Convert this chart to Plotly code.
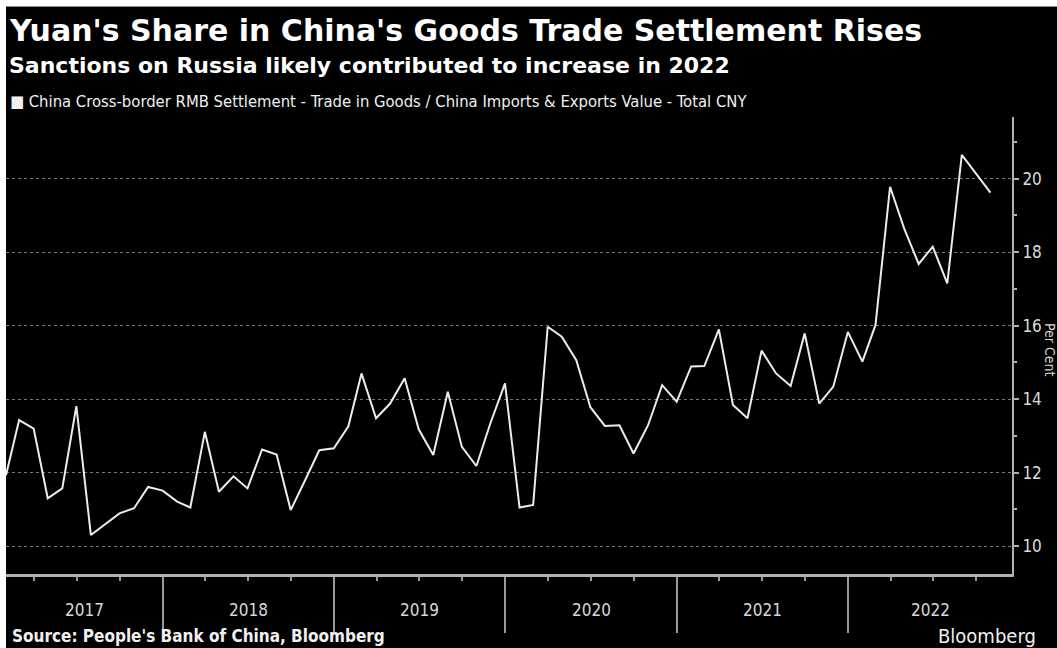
import plotly.graph_objects as go
import pandas as pd

# ---- data (month-end observations, Jan 2017 .. Oct 2022), percent ----
start_month = "2017-01-01"
n_months = 70
share_pct = [
    11.93, 13.43, 13.20, 11.30, 11.57, 13.81, 10.30, 10.59, 10.89, 11.03, 11.61, 11.51,  # 2017
    11.21, 11.05, 13.11, 11.48, 11.90, 11.57, 12.63, 12.49, 10.98, 11.80, 12.61, 12.66,  # 2018
    13.26, 14.70, 13.48, 13.88, 14.57, 13.18, 12.48, 14.20, 12.70, 12.18, 13.35, 14.43,  # 2019
    11.05, 11.12, 15.97, 15.70, 15.06, 13.78, 13.27, 13.29, 12.52, 13.29, 14.38, 13.93,  # 2020
    14.89, 14.90, 15.90, 13.84, 13.48, 15.32, 14.70, 14.36, 15.79, 13.88, 14.34, 15.83,  # 2021
    15.02, 16.02, 19.78, 18.65, 17.68, 18.15, 17.15, 20.65, 20.13, 19.62,              # 2022
]
year_labels = ["2017", "2018", "2019", "2020", "2021", "2022"]
y_ticks = [10, 12, 14, 16, 18, 20]

title = "Yuan's Share in China's Goods Trade Settlement Rises"
subtitle = "Sanctions on Russia likely contributed to increase in 2022"
series_name = ("China Cross-border RMB Settlement - Trade in Goods / "
               "China Imports & Exports Value - Total CNY")
source = "Source: People's Bank of China, Bloomberg"

dates = pd.date_range(start_month, periods=n_months, freq="MS") + pd.offsets.MonthEnd(0)

# ---- layout geometry ----
W, H = 1057, 648
L, R, T, B = 6, 1012, 117, 574
x_min = pd.Timestamp("2017-01-31")
x_max = pd.Timestamp("2022-12-16")

COND = "DejaVu Sans Condensed, Liberation Sans Narrow, DejaVu Sans"


def px_x(px):
    return (px - L) / (R - L)


def px_y(py):
    return (B - py) / (B - T)


fig = go.Figure()
fig.add_trace(go.Scatter(
    x=dates, y=share_pct, mode="lines",
    line=dict(color="#ececec", width=2),
    showlegend=False, hoverinfo="x+y",
))

ann = []
ann.append(dict(text=title, x=px_x(7), y=px_y(30), xanchor="left", yanchor="middle",
                font=dict(family="DejaVu Sans", size=30, color="#ffffff", weight="bold")))
ann.append(dict(text=subtitle, x=px_x(7), y=px_y(66), xanchor="left", yanchor="middle",
                font=dict(family="DejaVu Sans", size=22, color="#ffffff", weight="bold")))
ann.append(dict(text="\u25A0 " + series_name, x=px_x(8), y=px_y(101), xanchor="left",
                yanchor="middle",
                font=dict(family=COND, size=16.5, color="#f0f0f0")))
ann.append(dict(text=source, x=px_x(10), y=px_y(636), xanchor="left", yanchor="middle",
                font=dict(family=COND, size=17, color="#f0f0f0", weight="bold")))
ann.append(dict(text="Bloomberg", x=px_x(936), y=px_y(636), xanchor="left", yanchor="middle",
                font=dict(family=COND, size=20, color="#f0f0f0")))
ann.append(dict(text="Per Cent", x=px_x(1050), y=px_y(350), xanchor="center", yanchor="middle",
                textangle=90,
                font=dict(family=COND, size=14, color="#d8d8d8")))

# year labels centred within the visible part of each year
for lab in year_labels:
    y0 = max(pd.Timestamp(f"{lab}-01-01"), x_min)
    y1 = min(pd.Timestamp(f"{int(lab) + 1}-01-01"), x_max)
    mid = y0 + (y1 - y0) / 2
    ann.append(dict(text=lab, x=mid, xref="x", y=px_y(610), yref="paper",
                    xanchor="center", yanchor="middle", showarrow=False,
                    font=dict(family=COND, size=17, color="#d8d8d8")))

for a in ann:
    a.setdefault("xref", "paper")
    a.setdefault("yref", "paper")
    a["showarrow"] = False

shapes = [
    # white frame strips (top and left) around the black chart card
    dict(type="rect", xref="paper", yref="paper", x0=px_x(0), x1=px_x(W), y0=px_y(6), y1=px_y(0),
         fillcolor="#ffffff", line=dict(width=0), layer="above"),
    dict(type="rect", xref="paper", yref="paper", x0=px_x(0), x1=px_x(6), y0=px_y(H), y1=px_y(0),
         fillcolor="#ffffff", line=dict(width=0), layer="above"),
    dict(type="line", xref="paper", yref="paper", x0=px_x(6), x1=px_x(W), y0=px_y(6.5), y1=px_y(6.5),
         line=dict(color="#8a8a8a", width=1), layer="above"),
]

fig.update_layout(
    width=W, height=H,
    margin=dict(l=L, r=W - R, t=T, b=H - B, pad=0),
    paper_bgcolor="#000000", plot_bgcolor="#000000",
    annotations=ann, shapes=shapes, showlegend=False,
    xaxis=dict(
        type="date", range=[x_min, x_max],
        showgrid=False, zeroline=False,
        showline=True, linecolor="#b0b0b0", linewidth=2.5,
        ticks="outside", tick0="2017-01-01", dtick="M12", ticklen=56, tickwidth=1.5,
        tickcolor="#9a9a9a", showticklabels=False,
        minor=dict(ticks="outside", dtick="M3", tick0="2017-01-01", ticklen=4, tickwidth=1.5,
                   tickcolor="#9a9a9a", showgrid=False),
    ),
    yaxis=dict(
        side="right", range=[9.24, 21.68],
        tickvals=y_ticks, ticktext=[str(v) for v in y_ticks],
        showgrid=True, gridcolor="#777777", gridwidth=1, griddash="dot",
        zeroline=False, showline=True, linecolor="#b0b0b0", linewidth=2,
        ticks="outside", ticklen=5, tickwidth=1.5, tickcolor="#b0b0b0",
        tickfont=dict(family=COND, size=17, color="#dcdcdc"),
        minor=dict(ticks="outside", dtick=1, tick0=9, ticklen=3, tickwidth=1.5,
                   tickcolor="#b0b0b0", showgrid=False),
    ),
)

fig.write_html("out.html")
